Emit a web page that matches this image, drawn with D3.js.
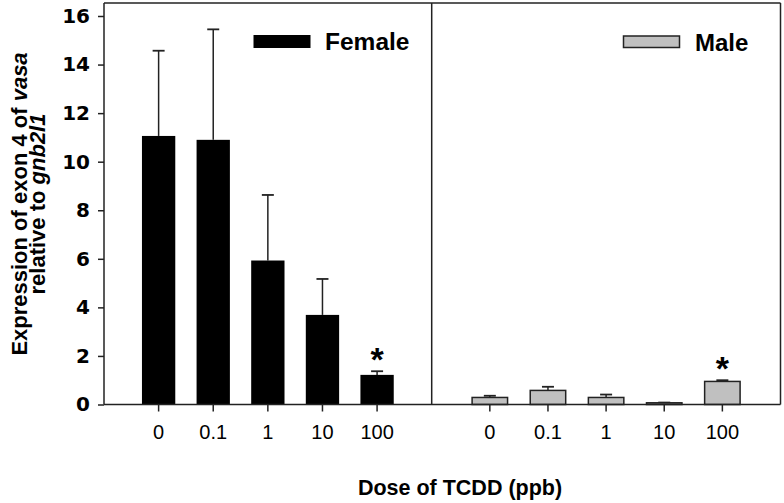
<!DOCTYPE html>
<html><head><meta charset="utf-8">
<script src="https://cdn.jsdelivr.net/npm/d3@7"></script>
<style>body{margin:0;background:#fff}svg{display:block}</style>
</head><body>
<svg id="c" width="784" height="503"></svg>
<script>
const doses = ["0", "0.1", "1", "10", "100"];
const femaleMean = [11.06, 10.9, 5.93, 3.69, 1.22];
const femaleErr  = [14.57, 15.45, 8.63, 5.17, 1.37];
const maleMean   = [0.29, 0.58, 0.29, 0.07, 0.95];
const maleErr    = [0.36, 0.73, 0.41, 0.08, 1.0];
const femaleSig  = [false, false, false, false, true];
const maleSig    = [false, false, false, false, true];
const yTicks = [0, 2, 4, 6, 8, 10, 12, 14, 16];

(function(){
const svg = d3.select("#c");
const pLeft = 104, pMid = 431.7, pRight = 780.5, pTop = 3, pBottom = 404.5;
const y = d3.scaleLinear().domain([0, 16]).range([pBottom, 16]);
const xF = d3.scaleBand().domain(doses).range([pLeft, pMid]).paddingInner(0.39).paddingOuter(0.695);
const xM = d3.scaleBand().domain(doses).range([pMid, pRight]).paddingInner(0.39).paddingOuter(0.695);
const stroke = "#222";

function panel(x, mean, err, sig, fill, barStroke) {
  const g = svg.append("g");
  g.selectAll("line.err").data(doses).join("line")
    .attr("x1", d => x(d) + x.bandwidth()/2).attr("x2", d => x(d) + x.bandwidth()/2)
    .attr("y1", (d,i) => y(mean[i])).attr("y2", (d,i) => y(err[i]))
    .attr("stroke", stroke).attr("stroke-width", 1.5);
  g.selectAll("line.cap").data(doses).join("line")
    .attr("x1", d => x(d) + x.bandwidth()/2 - 6).attr("x2", d => x(d) + x.bandwidth()/2 + 6)
    .attr("y1", (d,i) => y(err[i])).attr("y2", (d,i) => y(err[i]))
    .attr("stroke", stroke).attr("stroke-width", 1.8);
  g.selectAll("rect").data(doses).join("rect")
    .attr("x", d => x(d)).attr("width", x.bandwidth())
    .attr("y", (d,i) => y(mean[i])).attr("height", (d,i) => y(0) - y(mean[i]))
    .attr("fill", fill).attr("stroke", barStroke ? stroke : "none").attr("stroke-width", barStroke ? 1.5 : 0);
  g.selectAll("text.sig").data(doses.filter((d,i) => sig[i])).join("text")
    .attr("x", d => x(d) + x.bandwidth()/2)
    .attr("y", d => y(err[doses.indexOf(d)]))
    .attr("text-anchor", "middle").attr("font-family", "Liberation Sans, Arial, sans-serif")
    .attr("font-weight", "bold").attr("font-size", 34).attr("fill", "#000").text("*");
  const ax = svg.append("g").attr("transform", `translate(0,${pBottom})`)
    .call(d3.axisBottom(x).tickSize(7).tickPadding(13));
  ax.select(".domain").remove();
  ax.selectAll("line").attr("stroke", stroke).attr("stroke-width", 1.5);
  ax.selectAll("text").attr("font-family", "Liberation Sans, Arial, sans-serif")
    .attr("font-size", 20).attr("fill", "#000");
}

panel(xF, femaleMean, femaleErr, femaleSig, "#000", false);
panel(xM, maleMean, maleErr, maleSig, "#c0c0c0", true);

const ay = svg.append("g").attr("transform", `translate(${pLeft},0)`)
  .call(d3.axisLeft(y).tickValues(yTicks).tickSize(6).tickPadding(8));
ay.select(".domain").remove();
ay.selectAll("line").attr("stroke", stroke).attr("stroke-width", 1.5);
ay.selectAll("text").attr("font-family", "DejaVu Sans, sans-serif").attr("font-weight", "bold")
  .attr("font-size", 20).attr("fill", "#000");

const fr = svg.append("g").attr("stroke", stroke).attr("stroke-width", 1.5).attr("fill", "none");
fr.append("line").attr("x1", pLeft).attr("x2", pLeft).attr("y1", pTop).attr("y2", pBottom);
fr.append("line").attr("x1", pLeft).attr("x2", pRight).attr("y1", pBottom).attr("y2", pBottom);
fr.append("line").attr("x1", pLeft).attr("x2", pRight).attr("y1", pTop).attr("y2", pTop);
fr.append("line").attr("x1", pRight).attr("x2", pRight).attr("y1", pTop).attr("y2", pBottom);
fr.append("line").attr("x1", pMid).attr("x2", pMid).attr("y1", pTop).attr("y2", pBottom);

svg.append("rect").attr("x", 253.5).attr("y", 35).attr("width", 57).attr("height", 13).attr("fill", "#000");
svg.append("text").attr("x", 325).attr("y", 50).attr("font-family", "Liberation Sans, Arial, sans-serif")
  .attr("font-weight", "bold").attr("font-size", 24.5).text("Female");
svg.append("rect").attr("x", 623.5).attr("y", 36).attr("width", 56).attr("height", 11.5)
  .attr("fill", "#c0c0c0").attr("stroke", stroke).attr("stroke-width", 1.5);
svg.append("text").attr("x", 695).attr("y", 51).attr("font-family", "Liberation Sans, Arial, sans-serif")
  .attr("font-weight", "bold").attr("font-size", 24).text("Male");

const yt = svg.append("text").attr("transform", "translate(27,204) rotate(-90)")
  .attr("text-anchor", "middle").attr("font-family", "Liberation Sans, Arial, sans-serif")
  .attr("font-weight", "bold").attr("font-size", 22);
yt.append("tspan").text("Expression of exon 4 of ");
yt.append("tspan").attr("font-style", "italic").text("vasa");
const yt2 = svg.append("text").attr("transform", "translate(45,204) rotate(-90)")
  .attr("text-anchor", "middle").attr("font-family", "Liberation Sans, Arial, sans-serif")
  .attr("font-weight", "bold").attr("font-size", 22);
yt2.append("tspan").text("relative to ");
yt2.append("tspan").attr("font-style", "italic").text("gnb2l1");

svg.append("text").attr("x", 460).attr("y", 495).attr("text-anchor", "middle")
  .attr("font-family", "Liberation Sans, Arial, sans-serif").attr("font-weight", "bold")
  .attr("font-size", 21.5).text("Dose of TCDD (ppb)");
})();
</script>
</body></html>
